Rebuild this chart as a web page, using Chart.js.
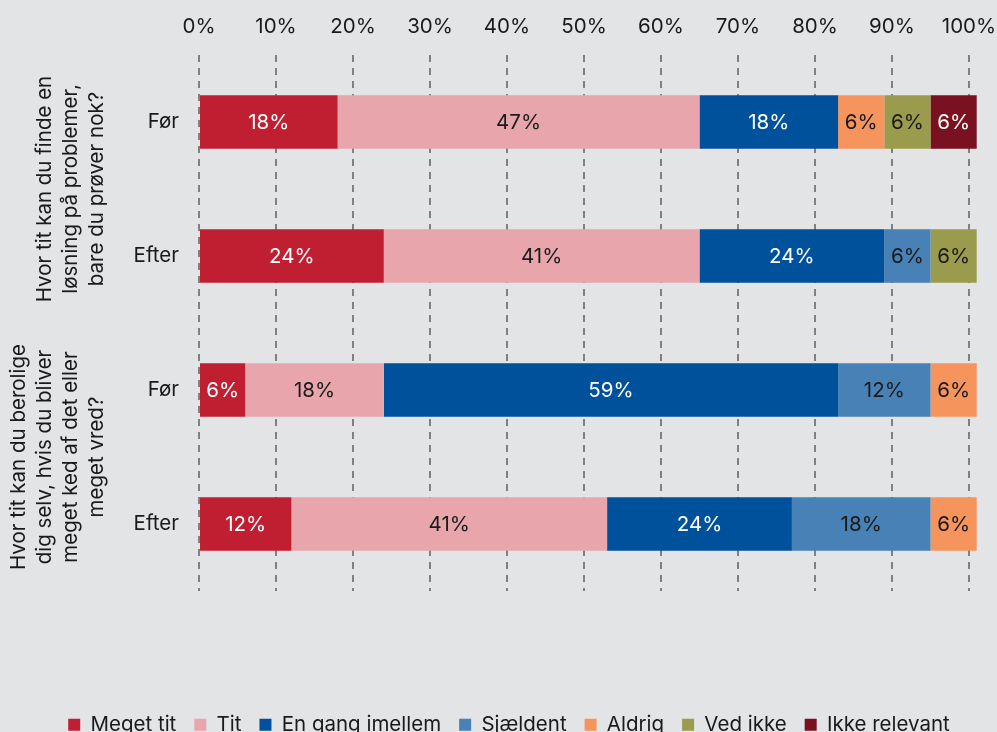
<!DOCTYPE html>
<html>
<head>
<meta charset="utf-8">
<script src="https://cdn.jsdelivr.net/npm/chart.js@4.4.1/dist/chart.umd.min.js"></script>
<style>
    html, body { margin: 0; padding: 0; background: #e3e4e6; overflow: hidden; }
    #wrap { width: 997px; height: 745px; }
</style>
</head>
<body>
<div id="wrap"><canvas id="chart"></canvas></div>
<script>
// rows: two questions, each asked before and after
const rows = ['Før', 'Efter', 'Før', 'Efter'];
const questions = [
    ['Hvor tit kan du finde en', 'løsning på problemer,', 'bare du prøver nok?'],
    ['Hvor tit kan du berolige', 'dig selv, hvis du bliver', 'meget ked af det eller', 'meget vred?']
];
const answers = ['Meget tit', 'Tit', 'En gang imellem', 'Sjældent', 'Aldrig', 'Ved ikke', 'Ikke relevant'];

// percent per answer, one value per row
const meget_tit = [18, 24, 6, 12];
const tit = [47, 41, 18, 41];
const en_gang_imellem = [18, 24, 59, 24];
const sjaeldent = [0, 6, 12, 18];
const aldrig = [6, 0, 6, 6];
const ved_ikke = [6, 6, 0, 0];
const ikke_relevant = [6, 0, 0, 0];

const xTicks = [0, 10, 20, 30, 40, 50, 60, 70, 80, 90, 100];

const colors = ['#c01f32', '#e8a6ac', '#00519b', '#4881b5', '#f6945e', '#9b9b4e', '#7a1120'];
const labelColors = ['#ffffff', '#1a1a1a', '#ffffff', '#1a1a1a', '#1a1a1a', '#1a1a1a', '#ffffff'];
const series = [meget_tit, tit, en_gang_imellem, sjaeldent, aldrig, ved_ikke, ikke_relevant];

const textColor = '#1a1a1a';
const fontSize = 20.5;
const font = { family: 'Inter', size: fontSize };

// percent labels inside the segments
const segmentLabels = {
    id: 'segmentLabels',
    afterDatasetsDraw(chart) {
        let ctx = chart.ctx;
        ctx.save();
        ctx.font = fontSize + 'px Inter';
        ctx.textAlign = 'center';
        ctx.textBaseline = 'middle';
        chart.data.datasets.forEach((ds, i) => {
            let meta = chart.getDatasetMeta(i);
            meta.data.forEach((bar, j) => {
                let v = ds.data[j];
                if (!v) return;
                ctx.fillStyle = labelColors[i];
                ctx.fillText(v + '%', (bar.x + bar.base) / 2, bar.y + 1);
            });
        });
        ctx.restore();
    }
};

// rotated question text left of the row labels
const questionLabels = {
    id: 'questionLabels',
    afterDraw(chart) {
        let ctx = chart.ctx;
        let y = chart.scales.y;
        ctx.save();
        ctx.font = fontSize + 'px Inter';
        ctx.fillStyle = textColor;
        ctx.textAlign = 'center';
        ctx.textBaseline = 'middle';
        questions.forEach((lines, q) => {
            let cy = (y.getPixelForValue(q * 2) + y.getPixelForValue(q * 2 + 1)) / 2;
            lines.forEach((line, k) => {
                let cx = 97 - (lines.length - 1 - k) * 26;
                ctx.save();
                ctx.translate(cx, cy);
                ctx.rotate(-Math.PI / 2);
                ctx.fillText(line, 0, 0);
                ctx.restore();
            });
        });
        ctx.restore();
    }
};

// empty axes only used to reserve space
const hiddenAxis = (axis, position, fit) => ({
    type: 'linear',
    axis: axis,
    position: position,
    display: true,
    afterFit: fit,
    grid: { display: false, drawTicks: false },
    border: { display: false },
    ticks: { display: false }
});

let canvas = document.getElementById('chart');

new Chart(canvas, {
    type: 'bar',
    data: {
        labels: rows,
        datasets: answers.map((name, i) => ({
            label: name,
            data: series[i],
            xAxisID: 'x',
            yAxisID: 'y',
            backgroundColor: colors[i],
            borderWidth: 0,
            barPercentage: 0.4,
            categoryPercentage: 1,
            clip: false
        }))
    },
    options: {
        indexAxis: 'y',
        responsive: true,
        maintainAspectRatio: false,
        animation: false,
        layout: {
            padding: { left: 21, right: 0, top: 0, bottom: 0 }
        },
        scales: {
            x: {
                position: 'top',
                stacked: true,
                min: 0,
                max: 100,
                afterBuildTicks: s => { s.ticks = xTicks.map(v => ({ value: v })); },
                afterFit: s => { s.height = 55; s.paddingLeft = 0; s.paddingRight = 0; },
                ticks: {
                    padding: 16,
                    maxRotation: 0,
                    color: textColor,
                    font: font,
                    callback: v => v + '%'
                },
                grid: {
                    drawTicks: false,
                    color: '#808080',
                    lineWidth: 2
                },
                border: { display: false, dash: [7, 6] }
            },
            y: {
                type: 'category',
                stacked: true,
                afterFit: s => { s.width = 178; s.paddingTop = 0; s.paddingBottom = 0; },
                ticks: {
                    padding: 20,
                    color: textColor,
                    font: font
                },
                grid: { display: false, drawTicks: false },
                border: { display: false }
            },
            bottomSpace: hiddenAxis('x', 'bottom', s => { s.height = 105.5; s.paddingLeft = 0; s.paddingRight = 0; }),
            rightSpace: hiddenAxis('y', 'right', s => { s.width = 28; s.paddingTop = 0; s.paddingBottom = 0; })
        },
        plugins: {
            legend: {
                position: 'bottom',
                labels: {
                    boxWidth: 12,
                    boxHeight: 12,
                    padding: 18,
                    color: textColor,
                    font: font
                }
            },
            tooltip: { enabled: false }
        }
    },
    plugins: [segmentLabels, questionLabels]
});
</script>
</body>
</html>
